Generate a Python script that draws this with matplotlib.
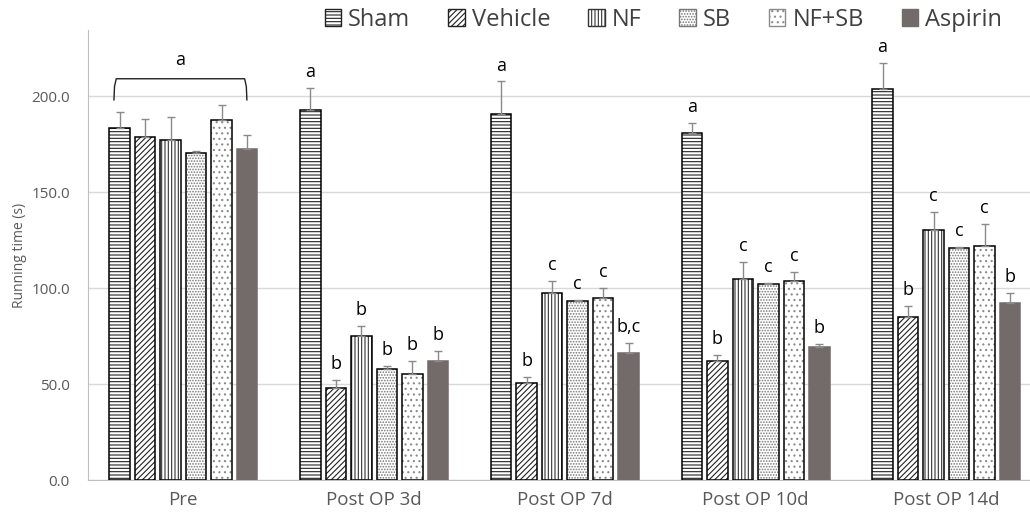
import numpy as np
import matplotlib.pyplot as plt
from matplotlib.patches import Patch

plt.rcParams['font.family'] = ['Open Sans', 'DejaVu Sans']
plt.rcParams['hatch.linewidth'] = 0.8

# -----------------------------------------------------------------------------
# data: mean running time (s) and SEM per group / time point
# -----------------------------------------------------------------------------
timepoints = ['Pre', 'Post OP 3d', 'Post OP 7d', 'Post OP 10d', 'Post OP 14d']
groups = ['Sham', 'Vehicle', 'NF', 'SB', 'NF+SB', 'Aspirin']

sham = [183.2, 192.7, 190.6, 181.0, 203.5]
vehicle = [178.5, 48.1, 50.3, 62.0, 85.1]
nf = [177.0, 75.2, 97.6, 104.9, 130.4]
sb = [170.5, 58.0, 93.1, 102.3, 120.8]
nf_sb = [187.5, 55.4, 94.8, 103.6, 121.9]
aspirin = [172.2, 62.2, 66.1, 69.4, 92.0]

sham_err = [8.6, 11.5, 17.0, 4.8, 13.5]
vehicle_err = [9.3, 4.0, 3.5, 3.1, 5.4]
nf_err = [12.0, 4.8, 6.0, 8.7, 9.0]
sb_err = [1.0, 1.2, 0.8, 0.5, 0.7]
nf_sb_err = [8.0, 6.4, 5.2, 4.9, 11.4]
aspirin_err = [7.6, 4.8, 5.1, 1.3, 5.6]

# significance letters (Pre is marked with one bracket instead)
letters = {
    'Sham':    ['', 'a', 'a', 'a', 'a'],
    'Vehicle': ['', 'b', 'b', 'b', 'b'],
    'NF':      ['', 'b', 'c', 'c', 'c'],
    'SB':      ['', 'b', 'c', 'c', 'c'],
    'NF+SB':   ['', 'b', 'c', 'c', 'c'],
    'Aspirin': ['', 'b', 'b,c', 'b', 'b'],
}

means = [sham, vehicle, nf, sb, nf_sb, aspirin]
errs = [sham_err, vehicle_err, nf_err, sb_err, nf_sb_err, aspirin_err]

# fill colour, hatch, hatch colour, outline colour
styles = {
    'Sham':    ('white', '-----', '#222222', 'black'),
    'Vehicle': ('white', '//////', '#222222', 'black'),
    'NF':      ('white', '|||||', '#333333', 'black'),
    'SB':      ('white', '......', '#777777', 'black'),
    'NF+SB':   ('white', '...', '#8a8a8a', 'black'),
    'Aspirin': ('#736a6a', None, '#736a6a', '#736a6a'),
}

# -----------------------------------------------------------------------------
# plot
# -----------------------------------------------------------------------------
fig = plt.figure(figsize=(10.30, 5.17), dpi=100)
ax = fig.add_axes([88 / 1030, 37 / 517, 953.75 / 1030, 450 / 517])

x = np.arange(len(timepoints))
pitch = 0.1337
width = 0.107
grey = '#595959'

for j, g in enumerate(groups):
    pos = x + (j - 2.5) * pitch
    fc, hatch, hc, ec = styles[g]
    # hatch layer first, then a separate outline on top
    ax.bar(pos, means[j], width, facecolor=fc, edgecolor=hc, hatch=hatch,
           linewidth=0, zorder=3)
    ax.bar(pos, means[j], width, facecolor='none', edgecolor=ec, linewidth=1.1, zorder=3)
    ax.errorbar(pos, means[j], yerr=[np.zeros(len(pos)), errs[j]], fmt='none',
                ecolor='#8a8a8a', elinewidth=1.0, capsize=3, capthick=1.0, zorder=4)
    for k, lab in enumerate(letters[g]):
        if lab:
            ax.annotate(lab, (pos[k], means[j][k] + errs[j][k]), xytext=(0, 5),
                        textcoords='offset points', ha='center', va='bottom',
                        fontsize=13, color='black')

# bracket over the Pre group
bx0, bx1 = -0.364, 0.333
ax.plot([bx0, bx0 + 0.003, bx0 + 0.012, bx1 - 0.012, bx1 - 0.003, bx1],
        [198, 205, 209, 209, 205, 198], color='#222222', lw=1.0, zorder=5)
ax.text((bx0 + bx1) / 2, 214, 'a', ha='center', va='bottom', fontsize=13, color='black')

ax.set_xlim(-0.5, 4.5)
ax.set_ylim(0, 234.4)
ax.set_yticks([0, 50, 100, 150, 200])
ax.set_yticklabels([f'{v:.1f}' for v in [0, 50, 100, 150, 200]])
ax.set_xticks(x)
ax.set_xticklabels(timepoints)
ax.tick_params(axis='y', length=0, labelsize=11, colors=grey, pad=13)
ax.tick_params(axis='x', length=0, labelsize=13.5, colors=grey, pad=8)
ax.grid(axis='y', color='#d9d9d9', lw=1.0, zorder=0)
ax.set_axisbelow(True)

for side in ['top', 'right']:
    ax.spines[side].set_visible(False)
ax.spines['left'].set_color('#bfbfbf')
ax.spines['bottom'].set_color('#bfbfbf')

ax.set_ylabel('Running time (s)', fontsize=10, color=grey, labelpad=3)

handles = [Patch(facecolor=styles[g][0], edgecolor=styles[g][2] if styles[g][1] else styles[g][3],
                 hatch=styles[g][1], label=g) for g in groups]
fig.legend(handles=handles, loc='center', bbox_to_anchor=(0.644, 0.962), ncol=6,
           frameon=False, fontsize=17, handlelength=0.7, handleheight=0.7,
           handletextpad=0.3, columnspacing=1.6, labelcolor='#404040')

fig.savefig('out.png', dpi=100)
